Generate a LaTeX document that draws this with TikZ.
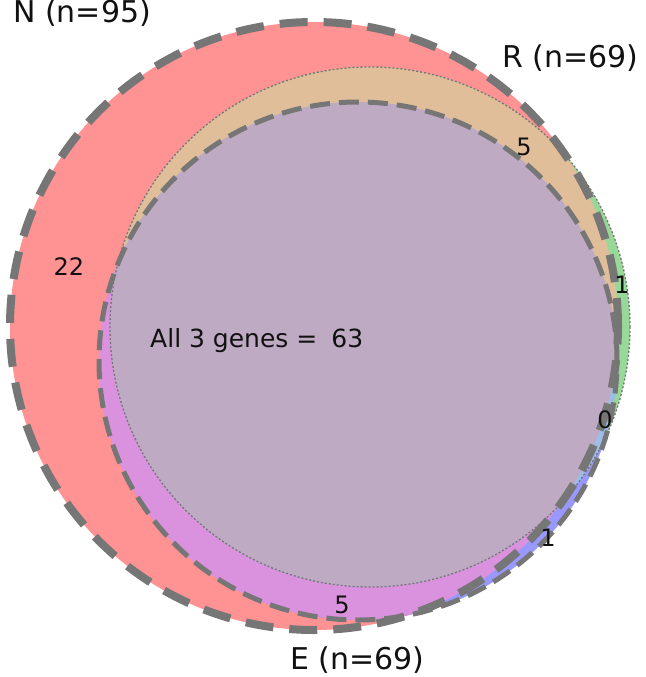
\documentclass[tikz,border=0pt]{standalone}
\usepackage{fontspec}
\setmainfont{DejaVu Sans}
\definecolor{nonly}{HTML}{FF9292}
\definecolor{ronly}{HTML}{98D898}
\definecolor{eonly}{HTML}{9898FF}
\definecolor{nr}{HTML}{E0BE9A}
\definecolor{ne}{HTML}{DA92DE}
\definecolor{re}{HTML}{9CBEE6}
\definecolor{nre}{HTML}{BFAAC3}
\definecolor{edgegray}{HTML}{767676}
\definecolor{txt}{HTML}{111111}
\tikzset{
  x=1pt, y=-1pt,
  bigdash/.style={draw=edgegray, line width=8pt, dash pattern=on 28pt off 16pt},
  meddash/.style={draw=edgegray, line width=5pt, dash pattern=on 20pt off 9pt},
  dotline/.style={draw=edgegray, line width=1.3pt, dash pattern=on 2pt off 2pt},
  setlabel/.style={anchor=base west, inner sep=0pt, text=txt, font=\fontsize{30}{36}\selectfont},
  numlabel/.style={anchor=center, inner sep=0pt, text=txt, font=\fontsize{24}{28}\selectfont}
}
\begin{document}
\begin{tikzpicture}
\useasboundingbox (0,0) rectangle (645,677);
\coordinate (cn) at (314,326);
\coordinate (cr) at (370,327);
\coordinate (ce) at (358,361);
% single sets
\fill[nonly] (cn) circle[radius=304pt];
\fill[ronly] (cr) circle[radius=260pt];
\fill[eonly] (ce) circle[radius=259pt];
% pairs
\begin{scope}
  \clip (cn) circle[radius=304pt];
  \fill[nr] (cr) circle[radius=260pt];
\end{scope}
\begin{scope}
  \clip (cn) circle[radius=304pt];
  \fill[ne] (ce) circle[radius=259pt];
\end{scope}
\begin{scope}
  \clip (cr) circle[radius=260pt];
  \fill[re] (ce) circle[radius=259pt];
\end{scope}
% triple
\begin{scope}
  \clip (cn) circle[radius=304pt];
  \clip (cr) circle[radius=260pt];
  \fill[nre] (ce) circle[radius=259pt];
\end{scope}
% outlines
\path[dotline] (cr) circle[radius=260pt];
\path[meddash] (ce) circle[radius=259pt];
\path[bigdash] (cn) circle[radius=304pt];
% set labels
\node[setlabel] (ln) at (13,23) {N (n=95)};
\node[setlabel] (lr) at (502,67) {R (n=69)};
\node[setlabel] (le) at (290,669) {E (n=69)};
% region labels
\node[numlabel] (n22) at (69,267) {22};
\node[numlabel] (nr5) at (524,147) {5};
\node[numlabel] (r1) at (622,285) {1};
\node[numlabel] (re0) at (605,420) {0};
\node[numlabel] (e1) at (548,538) {1};
\node[numlabel] (ne5) at (342,605) {5};
\node[anchor=base west, inner sep=0pt, text=txt, font=\fontsize{25}{30}\selectfont] (all) at (150,347) {All 3 genes =\hspace{14pt}63};
\end{tikzpicture}
\end{document}
